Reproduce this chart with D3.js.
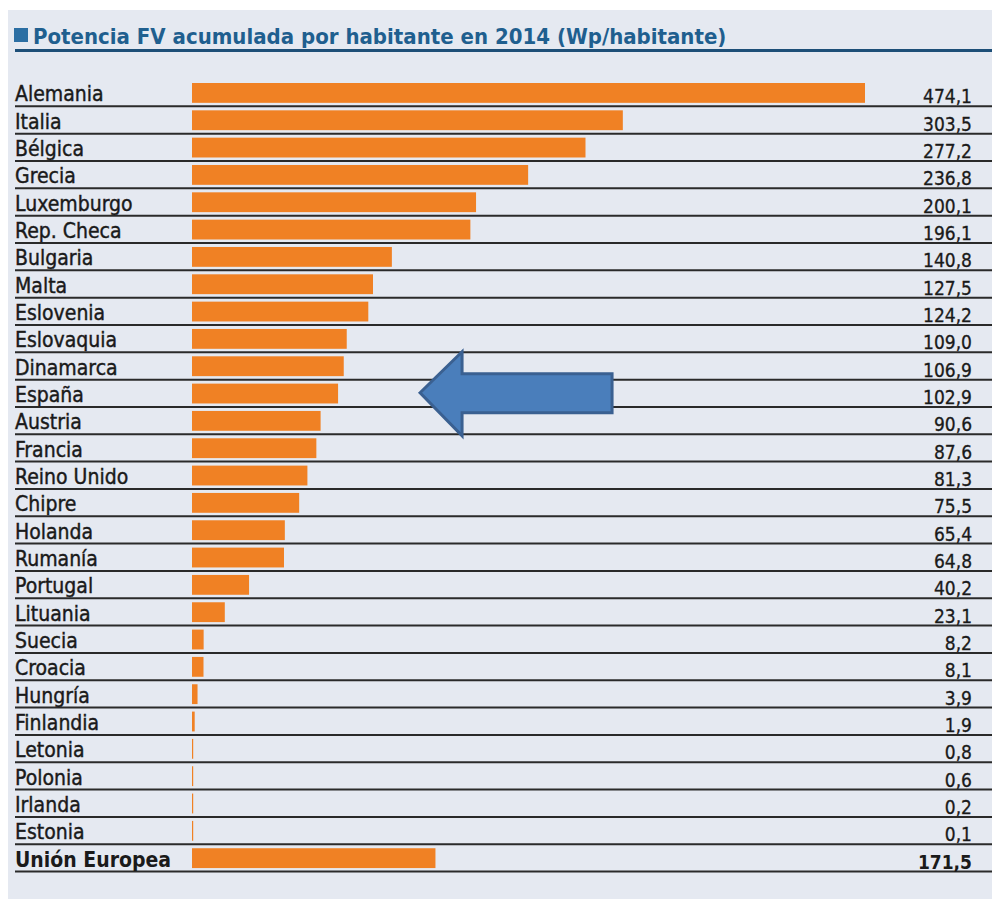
<!DOCTYPE html>
<html>
<head>
<meta charset="utf-8">
<script src="https://cdn.jsdelivr.net/npm/d3@7"></script>
<style>
  body { margin: 0; background: #ffffff; }
  #stage { width: 992px; height: 899px; }
</style>
</head>
<body>
<div id="stage"></div>
<script>
// chart data
var countries = ["Alemania", "Italia", "Bélgica", "Grecia", "Luxemburgo", "Rep. Checa", "Bulgaria",
  "Malta", "Eslovenia", "Eslovaquia", "Dinamarca", "España", "Austria", "Francia", "Reino Unido",
  "Chipre", "Holanda", "Rumanía", "Portugal", "Lituania", "Suecia", "Croacia", "Hungría",
  "Finlandia", "Letonia", "Polonia", "Irlanda", "Estonia", "Unión Europea"];
var values = [474.1, 303.5, 277.2, 236.8, 200.1, 196.1, 140.8, 127.5, 124.2, 109.0, 106.9, 102.9,
  90.6, 87.6, 81.3, 75.5, 65.4, 64.8, 40.2, 23.1, 8.2, 8.1, 3.9, 1.9, 0.8, 0.6, 0.2, 0.1, 171.5];
var title_text = "Potencia FV acumulada por habitante en 2014 (Wp/habitante)";
var highlight = "España";

var stage_width = 992;
var stage_height = 899;

document.onload = build_scene();

function build_scene() {
  var svg = d3.select("#stage")
    .append("svg")
    .attr("width", stage_width)
    .attr("height", stage_height);

  // panel background (white border on left and top)
  svg.append("rect")
    .attr("x", 8).attr("y", 10)
    .attr("width", stage_width - 8).attr("height", stage_height - 10)
    .attr("fill", "#e5e9f1");

  // title
  svg.append("rect")
    .attr("x", 14).attr("y", 28)
    .attr("width", 14).attr("height", 14)
    .attr("fill", "#2b6ea3");
  svg.append("text")
    .attr("x", 33).attr("y", 44)
    .attr("font-family", "'DejaVu Sans Condensed', 'DejaVu Sans', sans-serif")
    .attr("font-stretch", "condensed")
    .attr("font-size", "22px")
    .attr("font-weight", "bold")
    .attr("fill", "#1f5f8f")
    .text(title_text);
  svg.append("line")
    .attr("x1", 15).attr("x2", stage_width)
    .attr("y1", 50.5).attr("y2", 50.5)
    .attr("stroke", "#1d4f78")
    .attr("stroke-width", 3);

  // scales
  var y = d3.scaleBand()
    .domain(countries)
    .range([79, 79 + 27.33 * countries.length])
    .paddingInner(0).paddingOuter(0);
  var x = d3.scaleLinear()
    .domain([0, 474.1])
    .range([192, 865]);

  var rows = svg.selectAll("g.row")
    .data(countries.map(function(c, i) { return { name: c, value: values[i], last: i == countries.length - 1 }; }))
    .enter()
    .append("g")
    .attr("class", "row")
    .attr("transform", function(d) { return "translate(0," + y(d.name) + ")"; });

  // bars
  rows.append("rect")
    .attr("x", x(0))
    .attr("y", 4)
    .attr("width", function(d) { return Math.max(1.2, x(d.value) - x(0)); })
    .attr("height", y.bandwidth() - 7.5)
    .attr("fill", "#f08124");

  // separators
  rows.append("line")
    .attr("x1", 15).attr("x2", stage_width)
    .attr("y1", y.bandwidth()).attr("y2", y.bandwidth())
    .attr("stroke", "#2a2a2a")
    .attr("stroke-width", 2);

  // category labels
  rows.append("text")
    .attr("x", 15)
    .attr("y", y.bandwidth() - 5)
    .attr("font-family", "'DejaVu Sans Condensed', 'DejaVu Sans', sans-serif")
    .attr("font-stretch", "condensed")
    .attr("font-size", "21px")
    .attr("font-weight", function(d) { return d.last ? "bold" : "normal"; })
    .attr("fill", "#1a1a1a")
    .attr("stroke", "#1a1a1a")
    .attr("stroke-width", function(d) { return d.last ? 0 : 0.4; })
    .text(function(d) { return d.name; });

  // value labels
  rows.append("text")
    .attr("x", 972)
    .attr("y", y.bandwidth() - 3)
    .attr("text-anchor", "end")
    .attr("font-family", "'DejaVu Sans Condensed', 'DejaVu Sans', sans-serif")
    .attr("font-stretch", "condensed")
    .attr("font-size", "19px")
    .attr("font-weight", function(d) { return d.last ? "bold" : "normal"; })
    .attr("fill", "#1a1a1a")
    .attr("stroke", "#1a1a1a")
    .attr("stroke-width", function(d) { return d.last ? 0 : 0.3; })
    .text(function(d) { return d3.format(".1f")(d.value).replace(".", ","); });

  // arrow pointing to highlighted row
  var cy = y(highlight) + y.bandwidth() / 2 - 0.5;
  var tip = x(102.9) + 82;
  var arrow = [
    [tip, cy],
    [tip + 42, cy - 41],
    [tip + 42, cy - 19],
    [tip + 192, cy - 19],
    [tip + 192, cy + 20],
    [tip + 42, cy + 20],
    [tip + 42, cy + 43]
  ];
  svg.append("path")
    .attr("d", d3.line()(arrow) + "Z")
    .attr("fill", "#4a7ebb")
    .attr("stroke", "#3a6091")
    .attr("stroke-width", 3)
    .attr("stroke-linejoin", "miter");
}
</script>
</body>
</html>
